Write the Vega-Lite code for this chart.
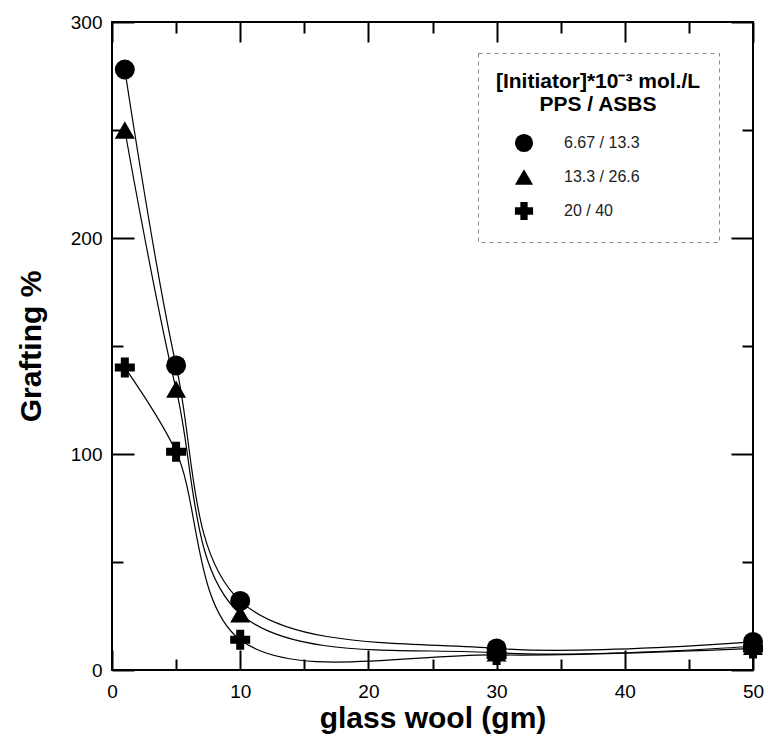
{
  "$schema": "https://vega.github.io/schema/vega-lite/v6.json",
  "width": 641,
  "height": 648,
  "autosize": {"type": "none"},
  "padding": {"left": 112, "top": 22, "right": 15, "bottom": 66},
  "background": "white",
  "config": {
    "font": "Liberation Sans",
    "view": {"stroke": "#000", "strokeWidth": 2},
    "axis": {"domain": false, "grid": false, "tickColor": "#000", "tickWidth": 2, "labelColor": "#000", "titleColor": "#000", "labelFont": "Liberation Sans", "titleFont": "Liberation Sans"},
    "legend": {"strokeDash": [4, 4]}
  },
  "data": {
    "values": [
      {"series": "6.67 / 13.3", "wool": 1, "grafting": 278},
      {"series": "6.67 / 13.3", "wool": 5, "grafting": 141},
      {"series": "6.67 / 13.3", "wool": 10, "grafting": 32},
      {"series": "6.67 / 13.3", "wool": 30, "grafting": 10},
      {"series": "6.67 / 13.3", "wool": 50, "grafting": 13},
      {"series": "13.3 / 26.6", "wool": 1, "grafting": 250},
      {"series": "13.3 / 26.6", "wool": 5, "grafting": 130},
      {"series": "13.3 / 26.6", "wool": 10, "grafting": 26},
      {"series": "13.3 / 26.6", "wool": 30, "grafting": 8},
      {"series": "13.3 / 26.6", "wool": 50, "grafting": 11},
      {"series": "20 / 40", "wool": 1, "grafting": 140},
      {"series": "20 / 40", "wool": 5, "grafting": 101},
      {"series": "20 / 40", "wool": 10, "grafting": 14},
      {"series": "20 / 40", "wool": 30, "grafting": 7},
      {"series": "20 / 40", "wool": 50, "grafting": 10}
    ]
  },
  "layer": [
    {
      "mark": {"type": "line", "interpolate": "catmull-rom", "color": "#000", "strokeWidth": 1.2},
      "encoding": {
        "x": {"field": "wool", "type": "quantitative", "scale": {"domain": [0, 50], "nice": false},
          "axis": {"orient": "bottom", "values": [0, 10, 20, 30, 40, 50], "ticks": false, "labelFontSize": 19, "labelPadding": 12, "labelFlush": false,
            "title": "glass wool (gm)", "titleFontSize": 30, "titleFontWeight": "bold", "titlePadding": 2}},
        "y": {"field": "grafting", "type": "quantitative", "scale": {"domain": [0, 300], "nice": false},
          "axis": {"orient": "left", "values": [0, 100, 200, 300], "ticks": false, "labelFontSize": 19, "labelPadding": 10, "labelFlush": false,
            "title": "Grafting %", "titleFontSize": 30, "titleFontWeight": "bold", "titlePadding": 24}},
        "detail": {"field": "series"}
      }
    },
    {
      "mark": {"type": "point", "filled": true, "color": "#000", "opacity": 1, "size": 400},
      "encoding": {
        "x": {"field": "wool", "type": "quantitative",
          "axis": {"orient": "bottom", "values": [0, 10, 20, 30, 40, 50], "tickSize": -20, "labels": false, "title": null}},
        "y": {"field": "grafting", "type": "quantitative",
          "axis": {"orient": "left", "values": [0, 100, 200, 300], "tickSize": -22, "labels": false, "title": null}},
        "shape": {"field": "series", "type": "nominal",
          "scale": {"domain": ["6.67 / 13.3", "13.3 / 26.6", "20 / 40"], "range": ["circle", "triangle-up", "cross"]},
          "legend": {
            "orient": "none", "legendX": 366, "legendY": 31,
            "title": ["[Initiator]*10⁻³ mol./L", "PPS / ASBS"],
            "titleFontSize": 21, "titleFontWeight": "bold", "titleColor": "#000", "titleLineHeight": 23, "titleLimit": 500,
            "titleAlign": "center", "titleAnchor": "middle", "titlePadding": 18,
            "labelFontSize": 16, "labelColor": "#222", "labelOffset": 30,
            "symbolSize": 330, "symbolFillColor": "#000", "symbolStrokeColor": "#000", "symbolOffset": -42,
            "rowPadding": 10, "padding": 18,
            "strokeColor": "#888", "fillColor": "white"
          }}
      }
    },
    {
      "mark": {"type": "point", "opacity": 0},
      "encoding": {
        "x": {"field": "wool", "type": "quantitative",
          "axis": {"orient": "bottom", "values": [5, 15, 25, 35, 45], "tickSize": -11, "labels": false, "title": null}},
        "y": {"field": "grafting", "type": "quantitative",
          "axis": {"orient": "left", "values": [50, 150, 250], "tickSize": -11, "labels": false, "title": null}}
      }
    },
    {
      "mark": {"type": "point", "opacity": 0},
      "encoding": {
        "x": {"field": "wool", "type": "quantitative",
          "axis": {"orient": "top", "values": [0, 10, 20, 30, 40, 50], "tickSize": -20, "labels": false, "title": null}},
        "y": {"field": "grafting", "type": "quantitative",
          "axis": {"orient": "right", "values": [0, 100, 200, 300], "tickSize": -22, "labels": false, "title": null}}
      }
    },
    {
      "mark": {"type": "point", "opacity": 0},
      "encoding": {
        "x": {"field": "wool", "type": "quantitative",
          "axis": {"orient": "top", "values": [5, 15, 25, 35, 45], "tickSize": -11, "labels": false, "title": null}},
        "y": {"field": "grafting", "type": "quantitative",
          "axis": {"orient": "right", "values": [50, 150, 250], "tickSize": -11, "labels": false, "title": null}}
      }
    }
  ],
  "resolve": {"axis": {"x": "independent", "y": "independent"}}
}
